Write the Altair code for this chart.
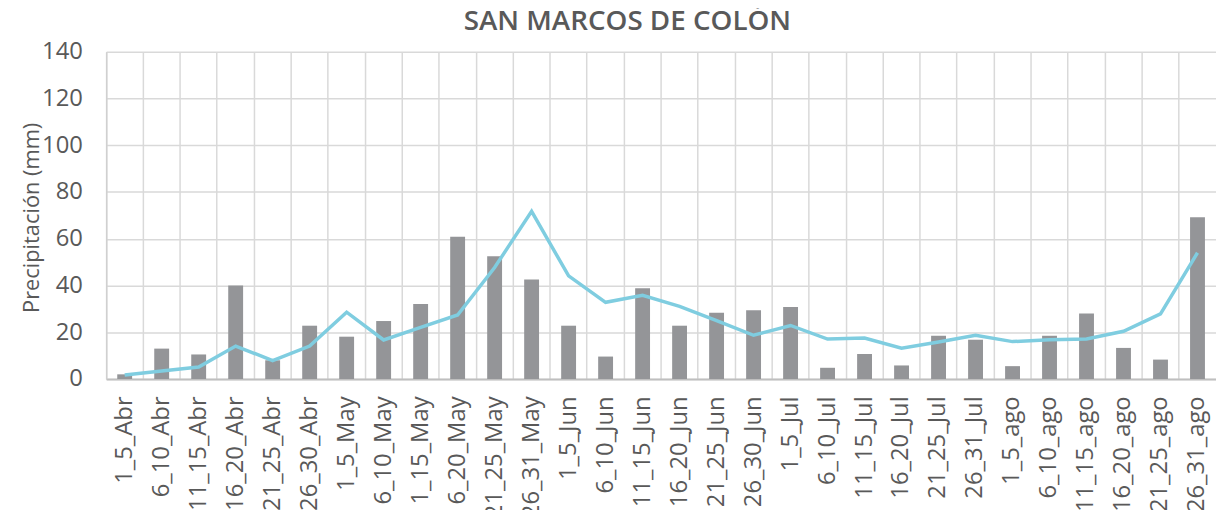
import altair as alt
import pandas as pd

periods = ["1_5_Abr", "6_10_Abr", "11_15_Abr", "16_20_Abr", "21_25_Abr", "26_30_Abr",
           "1_5_May", "6_10_May", "11_15_May", "16_20_May", "21_25_May", "26_31_May",
           "1_5_Jun", "6_10_Jun", "11_15_Jun", "16_20_Jun", "21_25_Jun", "26_30_Jun",
           "1_5_Jul", "6_10_Jul", "11_15_Jul", "16_20_Jul", "21_25_Jul", "26_31_Jul",
           "1_5_ago", "6_10_ago", "11_15_ago", "16_20_ago", "21_25_ago", "26_31_ago"]
bar_values = [2.0, 13.0, 10.5, 40.0, 8.0, 22.8, 18.1, 24.8, 32.1, 60.8, 52.5, 42.6,
              22.8, 9.6, 38.8, 22.8, 28.3, 29.4, 30.8, 4.8, 10.7, 5.8, 18.5, 16.8,
              5.5, 18.5, 28.0, 13.3, 8.3, 69.2]
line_values = [1.7, 3.4, 5.1, 14.1, 7.9, 14.1, 28.6, 16.7, 22.1, 27.4, 47.7, 71.7,
               44.1, 32.8, 35.8, 31.1, 25.0, 18.7, 22.9, 17.1, 17.5, 13.2, 15.8, 18.7,
               16.0, 16.8, 17.1, 20.4, 27.9, 54.0]
y_ticks = [0, 20, 40, 60, 80, 100, 120, 140]

df = pd.DataFrame({"periodo": periods, "barra": bar_values, "linea": line_values})

FONT = "Open Sans"
TXT = "#595959"

x_enc = alt.X("periodo:N", sort=periods, title=None,
              scale=alt.Scale(paddingInner=0, paddingOuter=0),
              axis=alt.Axis(labelAngle=-90, labelFontSize=24, labelColor=TXT, labelFont=FONT,
                            labelPadding=17, ticks=False, grid=True, bandPosition=0,
                            gridColor="#d9d9d9", gridWidth=1.5,
                            domainColor="#bfbfbf", domainWidth=2))
y_scale = alt.Scale(domain=[0, 140], nice=False)

bars = alt.Chart(df).mark_bar(size=15, color="#949598").encode(
    x=x_enc,
    y=alt.Y("barra:Q", scale=y_scale,
            axis=alt.Axis(values=y_ticks, title="Precipitación (mm)", titleFontSize=22,
                          titleFont=FONT, titleColor=TXT, titleFontWeight="normal",
                          titleX=-75, titleY=167, titleAngle=-90, titleAlign="center",
                          titleBaseline="middle",
                          labelFontSize=24, labelColor=TXT, labelFont=FONT, labelPadding=24,
                          ticks=False, grid=True, gridColor="#d9d9d9", gridWidth=1.5,
                          domainColor="#d0d0d0", domainWidth=1.5)),
)

line = alt.Chart(df).mark_line(color="#7fcde0", strokeWidth=3.5).encode(
    x=alt.X("periodo:N", sort=periods),
    y=alt.Y("linea:Q", scale=y_scale),
)

chart = alt.layer(bars, line).properties(
    width=1119, height=330,
    title=alt.TitleParams("SAN MARCOS DE COLÓN", fontSize=28, font=FONT, fontWeight=600,
                          color=TXT, anchor="middle", offset=4, dx=-34),
    autosize=alt.AutoSizeParams(type="none"),
    padding={"left": 99, "top": 42, "right": 0, "bottom": 130},
).configure_view(stroke=None)

chart.save("out.html", embed_options={"renderer": "svg", "actions": False})
